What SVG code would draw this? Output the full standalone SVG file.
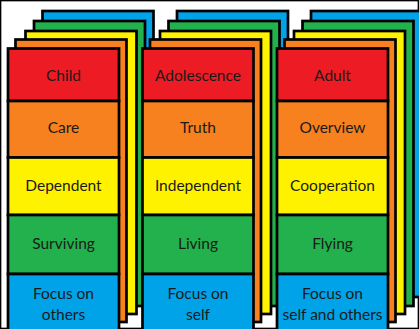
<svg xmlns="http://www.w3.org/2000/svg" width="419" height="329" viewBox="0 0 419 329">
<style>
rect{stroke:#000;stroke-width:2.7}
.r{fill:#ED1C24}.o{fill:#F7801F}.y{fill:#FFF200}.g{fill:#22B14C}.b{fill:#00A2E8}
text{font-family:Lato,"Liberation Sans",sans-serif;font-size:15.5px;fill:#1a1a1a;text-anchor:middle}
</style>
<rect x="0" y="0" width="419" height="329" fill="#fff" stroke="none"/>
<g id="column-child">
<rect class="b" x="42.5" y="11" width="111" height="286"/>
<rect class="g" x="34" y="21" width="111" height="285"/>
<rect class="y" x="25.5" y="31" width="111" height="283"/>
<rect class="o" x="15.5" y="39.5" width="111" height="282.5"/>
<rect class="r" x="8" y="48.5" width="111" height="52.5"/>
<rect class="o" x="8" y="101" width="111" height="56.5"/>
<rect class="y" x="8" y="157.5" width="111" height="57.5"/>
<rect class="g" x="8" y="215" width="111" height="59"/>
<rect class="b" x="8" y="274" width="111" height="62"/>
<text x="63.5" y="80.5">Child</text>
<text x="63.5" y="132.5">Care</text>
<text x="63.5" y="190.5">Dependent</text>
<text x="63.5" y="248.5">Surviving</text>
<text x="63.5" y="298.5">Focus on</text>
<text x="63.5" y="319.5">others</text>
</g>
<g id="column-adolescence">
<rect class="b" x="177" y="11" width="111" height="286"/>
<rect class="g" x="168.5" y="21" width="111" height="285"/>
<rect class="y" x="160" y="31" width="111" height="283"/>
<rect class="o" x="150" y="39.5" width="111" height="282.5"/>
<rect class="r" x="142.5" y="48.5" width="111" height="52.5"/>
<rect class="o" x="142.5" y="101" width="111" height="56.5"/>
<rect class="y" x="142.5" y="157.5" width="111" height="57.5"/>
<rect class="g" x="142.5" y="215" width="111" height="59"/>
<rect class="b" x="142.5" y="274" width="111" height="62"/>
<text x="198" y="80.5">Adolescence</text>
<text x="198" y="132.5">Truth</text>
<text x="198" y="190.5">Independent</text>
<text x="198" y="248.5">Living</text>
<text x="198" y="298.5">Focus on</text>
<text x="198" y="319.5">self</text>
</g>
<g id="column-adult">
<rect class="b" x="311" y="11" width="111" height="286"/>
<rect class="g" x="302.5" y="21" width="111" height="285"/>
<rect class="y" x="294" y="31" width="111" height="283"/>
<rect class="o" x="284.5" y="39.5" width="111" height="282.5"/>
<rect class="r" x="277" y="48.5" width="111" height="52.5"/>
<rect class="o" x="277" y="101" width="111" height="56.5"/>
<rect class="y" x="277" y="157.5" width="111" height="57.5"/>
<rect class="g" x="277" y="215" width="111" height="59"/>
<rect class="b" x="277" y="274" width="111" height="62"/>
<text x="332.5" y="80.5">Adult</text>
<text x="332.5" y="132.5">Overview</text>
<text x="332.5" y="190.5">Cooperation</text>
<text x="332.5" y="248.5">Flying</text>
<text x="332.5" y="298.5">Focus on</text>
<text x="332.5" y="319.5">self and others</text>
</g>
<g id="connectors"/>
</svg>
